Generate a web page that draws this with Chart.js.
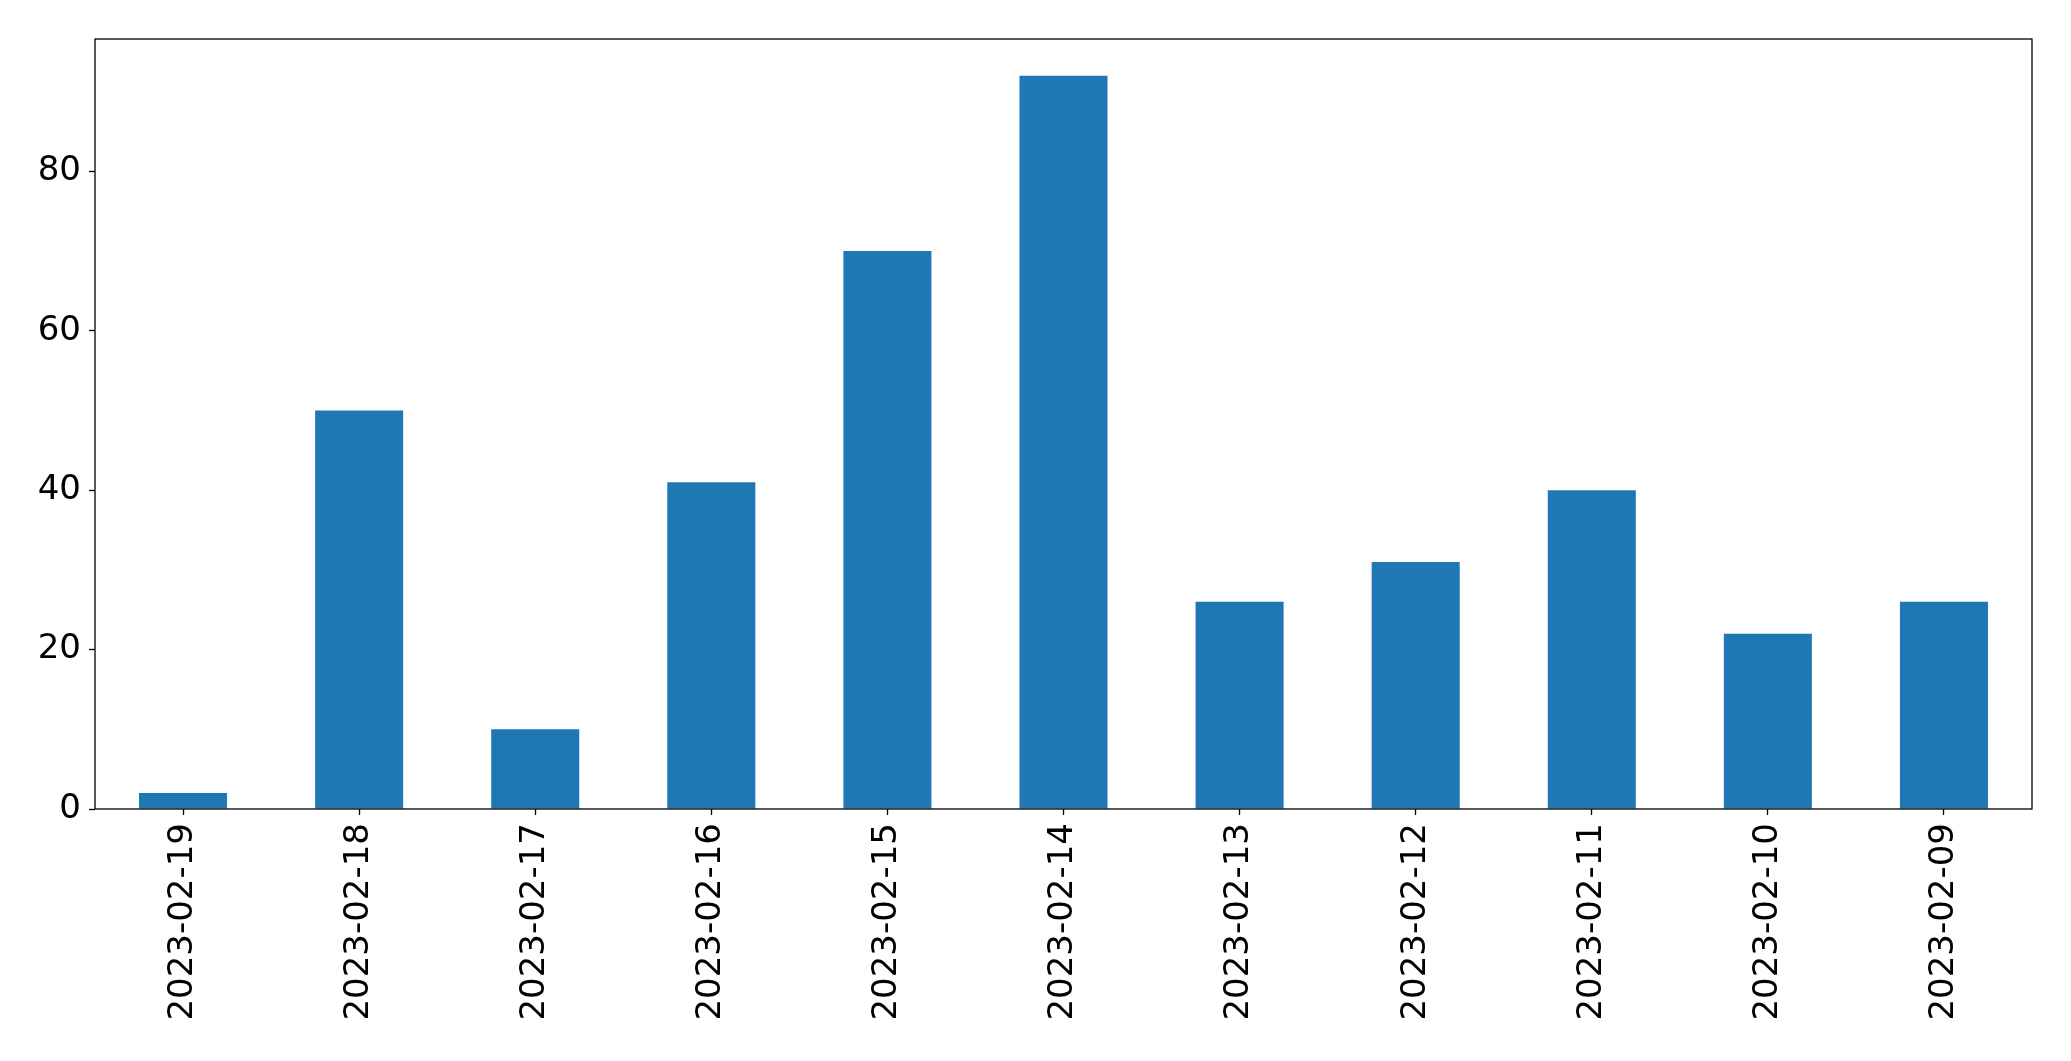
<!DOCTYPE html>
<html>
<head>
<meta charset="utf-8">
<script src="https://cdn.jsdelivr.net/npm/chart.js@4"></script>
<style>
  html, body { margin: 0; padding: 0; background: #fff; }
  #wrap { width: 2071px; height: 1061px; }
</style>
</head>
<body>
<div id="wrap"><canvas id="bar-chart" width="2071" height="1061"></canvas></div>
<script>
// DATA
var dates = ["2023-02-19", "2023-02-18", "2023-02-17", "2023-02-16", "2023-02-15", "2023-02-14",
             "2023-02-13", "2023-02-12", "2023-02-11", "2023-02-10", "2023-02-09"];
var counts = [2, 50, 10, 41, 70, 92, 26, 31, 40, 22, 26];
var yTicks = [0, 20, 40, 60, 80];

// box around the plot, like matplotlib spines
var frame = {
  id: "frame",
  afterDraw: function (chart) {
    var a = chart.chartArea;
    var c = chart.ctx;
    c.save();
    c.strokeStyle = "#000";
    c.lineWidth = 1.3;
    c.strokeRect(a.left, a.top, a.right - a.left, a.bottom - a.top);
    c.restore();
  }
};

var ctx = document.getElementById("bar-chart").getContext("2d");
var myBarChart = new Chart(ctx, {
  type: "bar",
  data: {
    labels: dates,
    datasets: [
      {
        data: counts,
        backgroundColor: "#1f77b4",
        borderWidth: 0,
        barPercentage: 0.5,
        categoryPercentage: 1.0,
      }
    ]
  },
  plugins: [frame],
  options: {
    responsive: false,
    animation: false,
    layout: {
      padding: { top: 39, right: 39, left: 0, bottom: 0 }
    },
    plugins: {
      legend: { display: false },
      title: { display: false },
      tooltip: { enabled: false }
    },
    scales: {
      x: {
        offset: true,
        grid: {
          display: true,
          drawOnChartArea: false,
          drawTicks: true,
          tickLength: 6,
          tickColor: "#000",
          tickWidth: 1.3,
          offset: false,
        },
        border: { display: false },
        ticks: {
          color: "#000",
          font: { family: "DejaVu Sans", size: 34 },
          minRotation: 90,
          maxRotation: 90,
          padding: 8,
          autoSkip: false,
        },
        afterFit: function (scale) { scale.height = 252; }
      },
      y: {
        min: 0,
        max: Math.max.apply(null, counts) * 1.05,
        afterBuildTicks: function (scale) {
          scale.ticks = yTicks.map(function (v) { return { value: v }; });
        },
        grid: {
          display: true,
          drawOnChartArea: false,
          drawTicks: true,
          tickLength: 6,
          tickColor: "#000",
          tickWidth: 1.3,
        },
        border: { display: false },
        ticks: {
          color: "#000",
          font: { family: "DejaVu Sans", size: 34 },
          padding: 8,
        },
        afterFit: function (scale) { scale.width = 95; }
      }
    }
  },
});
</script>
</body>
</html>
